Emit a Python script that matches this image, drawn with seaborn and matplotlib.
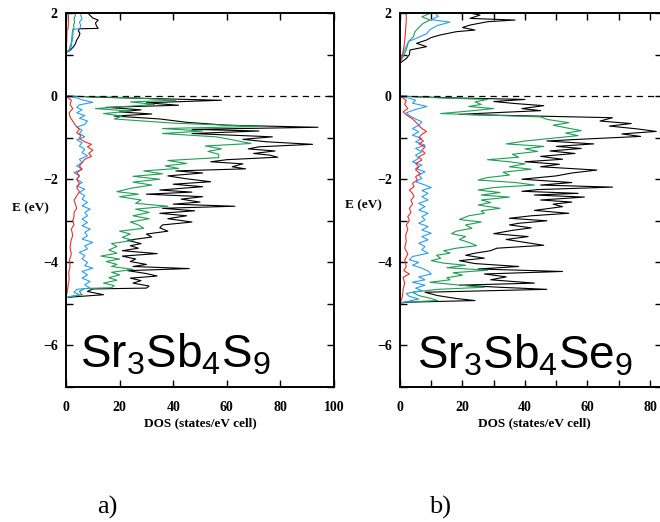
import matplotlib
matplotlib.use("Agg")
import matplotlib.pyplot as plt
import seaborn as sns
from matplotlib.ticker import MultipleLocator

# === Data: (a) Sr3Sb4S9, valence band ===
a_tot_vb_e = [0.00, -0.04, -0.10, -0.16, -0.22, -0.27, -0.33, -0.38, -0.43, -0.48, -0.55, -0.63, -0.70, -0.75,
              -0.80, -0.84, -0.90, -0.98, -1.04, -1.10, -1.16, -1.22, -1.27, -1.32, -1.38, -1.42, -1.47, -1.53,
              -1.58, -1.63, -1.70, -1.75, -1.80, -1.85, -1.92, -1.99, -2.06, -2.12, -2.18, -2.26, -2.31, -2.36,
              -2.42, -2.48, -2.55, -2.60, -2.65, -2.70, -2.76, -2.82, -2.88, -2.95, -3.03, -3.10, -3.17, -3.25,
              -3.32, -3.39, -3.47, -3.55, -3.60, -3.66, -3.72, -3.79, -3.85, -3.92, -3.98, -4.05, -4.10, -4.15,
              -4.20, -4.27, -4.33, -4.38, -4.44, -4.50, -4.57, -4.62, -4.64, -4.70, -4.78, -4.83, -4.85]
a_tot_vb = [0, 20, 58, 30, 42, 15, 28, 20, 32, 18, 35, 45, 60, 94,
            47, 72, 47, 77, 66, 75, 92, 72, 68, 78, 70, 76, 79, 60,
            54, 66, 62, 67, 41, 51, 38, 45, 54, 40, 51, 35, 47, 30,
            51, 43, 50, 40, 63, 36, 48, 35, 45, 38, 47, 36, 35, 38,
            30, 32, 23, 28, 24, 27, 21, 34, 21, 26, 24, 30, 25, 46,
            23, 30, 34, 24, 28, 25, 31, 30, 10, 8, 14, 3, 0]

a_grn_vb_e = [0.00, -0.04, -0.10, -0.14, -0.20, -0.25, -0.30, -0.36, -0.42, -0.48, -0.55, -0.65, -0.73, -0.78,
              -0.84, -0.90, -0.98, -1.05, -1.14, -1.20, -1.27, -1.33, -1.40, -1.48, -1.55, -1.62, -1.68, -1.74,
              -1.80, -1.87, -1.93, -2.00, -2.07, -2.14, -2.22, -2.30, -2.36, -2.42, -2.50, -2.58, -2.65, -2.72,
              -2.80, -2.88, -2.95, -3.03, -3.10, -3.18, -3.25, -3.32, -3.40, -3.47, -3.55, -3.62, -3.70, -3.78,
              -3.85, -3.92, -3.98, -4.05, -4.10, -4.17, -4.24, -4.30, -4.37, -4.43, -4.50, -4.56, -4.61, -4.63,
              -4.70, -4.78, -4.82, -4.85]
a_grn_vb = [0, 25, 41, 24, 33, 22, 11, 24, 14, 21, 18, 40, 72, 36,
            51, 36, 56, 62, 69, 52, 58, 53, 57, 57, 38, 45, 37, 42,
            29, 36, 25, 35, 25, 32, 24, 19, 27, 20, 28, 26, 38, 26,
            31, 25, 31, 24, 27, 29, 20, 24, 21, 25, 17, 19, 16, 19,
            13, 20, 15, 19, 17, 25, 17, 20, 16, 19, 14, 18, 17, 7,
            5, 6, 2, 0]

a_blu_vb_e = [0.00, -0.04, -0.09, -0.15, -0.21, -0.27, -0.33, -0.40, -0.47, -0.53, -0.60, -0.68, -0.75, -0.82,
              -0.90, -0.98, -1.05, -1.12, -1.20, -1.28, -1.36, -1.44, -1.52, -1.60, -1.68, -1.76, -1.84, -1.92,
              -2.00, -2.08, -2.16, -2.24, -2.32, -2.40, -2.48, -2.56, -2.64, -2.72, -2.80, -2.88, -2.96, -3.04,
              -3.12, -3.20, -3.28, -3.36, -3.44, -3.52, -3.60, -3.68, -3.76, -3.84, -3.92, -4.00, -4.08, -4.14,
              -4.22, -4.30, -4.38, -4.46, -4.54, -4.62, -4.65, -4.72, -4.78, -4.83, -4.85]
a_blu_vb = [0, 4, 6, 10, 5, 4, 6, 4, 7, 5, 8, 7, 4, 6,
            5, 7, 4, 6, 5, 7, 6, 8, 5, 6, 4, 6, 3, 5,
            4, 6, 4, 7, 5, 7, 6, 8, 6, 9, 7, 8, 6, 8,
            6, 9, 7, 8, 6, 10, 7, 8, 5, 7, 6, 8, 7, 10,
            6, 8, 6, 9, 7, 9, 4, 3, 5, 1, 0]

a_red_vb_e = [0.00, -0.10, -0.20, -0.30, -0.40, -0.50, -0.60, -0.70, -0.80, -0.88, -0.95, -1.02, -1.10, -1.16,
              -1.22, -1.30, -1.38, -1.45, -1.52, -1.60, -1.68, -1.76, -1.84, -1.92, -2.00, -2.10, -2.20, -2.30,
              -2.40, -2.50, -2.60, -2.70, -2.80, -2.90, -3.00, -3.10, -3.20, -3.35, -3.50, -3.65, -3.80, -3.95,
              -4.10, -4.25, -4.40, -4.55, -4.70, -4.85]
a_red_vb = [0, 2, 1.5, 2.5, 1.2, 1.5, 2.5, 3.5, 5, 4, 5.5, 5, 7, 9.5,
            8, 10, 8.5, 9.5, 7, 6, 5, 6, 4, 5, 4, 5, 4, 5,
            4, 3, 3.5, 4, 3, 3, 2.5, 3, 2, 2.5, 1.8, 1.5, 2, 1.3,
            1.5, 1, 1.2, 0.8, 0.5, 0]

# === (a) conduction band ===
a_tot_cb_e = [1.05, 1.10, 1.18, 1.26, 1.35, 1.43, 1.51, 1.57, 1.62, 1.63, 1.70, 1.76, 1.83, 1.88, 1.94, 1.99, 2.05]
a_tot_cb = [0, 1.5, 2.7, 3.5, 4, 4.8, 5.2, 4.6, 5, 12, 11.3, 11, 12, 10, 9, 8.3, 9]
a_grn_cb_e = [1.05, 1.12, 1.20, 1.30, 1.40, 1.50, 1.60, 1.63, 1.70, 1.78, 1.86, 1.94, 2.02]
a_grn_cb = [0, 1.2, 1.6, 2, 2.2, 2.3, 2.5, 3, 2.8, 3.2, 3, 3.5, 3.2]
a_blu_cb_e = [1.05, 1.12, 1.20, 1.30, 1.40, 1.50, 1.60, 1.63, 1.70, 1.78, 1.86, 1.94, 2.02]
a_blu_cb = [0, 1.5, 2, 2.2, 2.5, 2.6, 2.7, 5.2, 5.5, 5, 6, 5.5, 5.8]
a_red_cb_e = [1.05, 1.20, 1.40, 1.60, 1.63, 1.80, 2.02]
a_red_cb = [0, 0.2, 0.3, 0.4, 0.8, 0.9, 0.9]

# === Data: (b) Sr3Sb4Se9, valence band ===
b_tot_vb_e = [0.00, -0.04, -0.08, -0.13, -0.18, -0.23, -0.30, -0.35, -0.40, -0.44, -0.52, -0.60, -0.66, -0.72,
              -0.79, -0.85, -0.91, -0.97, -1.03, -1.08, -1.15, -1.21, -1.26, -1.32, -1.38, -1.45, -1.52, -1.58,
              -1.64, -1.70, -1.78, -1.85, -1.92, -2.00, -2.08, -2.14, -2.19, -2.25, -2.29, -2.34, -2.38, -2.43,
              -2.50, -2.55, -2.60, -2.66, -2.75, -2.82, -2.88, -2.94, -3.00, -3.06, -3.10, -3.17, -3.23, -3.31,
              -3.38, -3.45, -3.52, -3.59, -3.66, -3.72, -3.78, -3.83, -3.90, -3.96, -4.03, -4.10, -4.16, -4.22,
              -4.28, -4.35, -4.42, -4.50, -4.55, -4.60, -4.65, -4.72, -4.80, -4.87, -4.92, -4.96, -4.98]
b_tot_vb = [0, 15, 40, 30, 37, 46, 39, 45, 30, 19, 68, 64, 74, 67,
            76, 82, 71, 77, 60, 47, 62, 50, 58, 48, 56, 45, 52, 40,
            51, 45, 63, 55, 50, 39, 55, 45, 68, 44, 39, 57, 43, 59,
            45, 55, 49, 52, 43, 54, 42, 35, 47, 38, 35, 42, 36, 30,
            41, 34, 40, 46, 31, 29, 24, 21, 27, 19, 24, 38, 25, 52,
            27, 34, 29, 43, 19, 32, 47, 8, 12, 18, 24, 2, 0]

b_grn_vb_e = [0.00, -0.04, -0.08, -0.14, -0.20, -0.25, -0.30, -0.36, -0.42, -0.50, -0.56, -0.64, -0.70, -0.76,
              -0.83, -0.89, -0.95, -1.02, -1.08, -1.15, -1.21, -1.27, -1.33, -1.40, -1.47, -1.53, -1.58, -1.63,
              -1.70, -1.76, -1.83, -1.90, -1.96, -2.02, -2.08, -2.14, -2.20, -2.26, -2.32, -2.38, -2.43, -2.50,
              -2.56, -2.62, -2.70, -2.76, -2.82, -2.88, -2.97, -3.03, -3.10, -3.18, -3.25, -3.31, -3.38, -3.45,
              -3.52, -3.60, -3.66, -3.72, -3.78, -3.83, -3.90, -3.96, -4.02, -4.07, -4.13, -4.19, -4.25, -4.31,
              -4.37, -4.42, -4.48, -4.54, -4.60, -4.65, -4.72, -4.80, -4.87, -4.92, -4.96, -4.98]
b_grn_vb = [0, 12, 28, 24, 26, 22, 30, 22, 13, 45, 47, 54, 49, 53,
            58, 53, 57, 48, 40, 34, 46, 40, 44, 36, 38, 28, 35, 40,
            35, 42, 33, 35, 28, 25, 37, 43, 30, 25, 32, 26, 35, 26,
            29, 25, 32, 26, 27, 22, 19, 26, 21, 23, 18, 16.5, 21, 19,
            22, 24.5, 18, 14, 16, 11.7, 13, 10, 14, 21, 15, 28, 17, 20,
            15, 16, 9.6, 18, 27, 12, 4, 6, 10, 12, 1, 0]

b_blu_vb_e = [0.00, -0.05, -0.10, -0.17, -0.25, -0.32, -0.40, -0.47, -0.55, -0.62, -0.70, -0.78, -0.86, -0.94,
              -1.02, -1.10, -1.18, -1.26, -1.34, -1.42, -1.50, -1.58, -1.66, -1.74, -1.82, -1.90, -1.98, -2.06,
              -2.14, -2.20, -2.27, -2.34, -2.42, -2.50, -2.58, -2.66, -2.74, -2.82, -2.90, -2.98, -3.06, -3.14,
              -3.22, -3.30, -3.38, -3.46, -3.54, -3.62, -3.70, -3.78, -3.86, -3.94, -4.00, -4.07, -4.14, -4.21,
              -4.28, -4.35, -4.42, -4.48, -4.55, -4.62, -4.68, -4.75, -4.82, -4.88, -4.93, -4.98]
b_blu_vb = [0, 3, 5, 4, 8.6, 5, 2, 3, 5, 7, 6, 4, 6, 4,
            7, 5, 8, 5, 7, 5, 6, 4, 7, 5, 8, 6, 7, 5,
            8, 10, 7, 9, 7, 9, 6, 8, 6, 9, 7, 8, 6, 9,
            7, 10, 7, 9, 6, 8, 7, 9, 4, 3, 6, 4, 7, 9,
            10, 6, 8, 4, 8, 5, 7, 2, 3, 6, 3, 0]

b_red_vb_e = [0.00, -0.10, -0.20, -0.30, -0.38, -0.45, -0.55, -0.62, -0.70, -0.78, -0.85, -0.92, -1.00, -1.08,
              -1.15, -1.22, -1.30, -1.38, -1.46, -1.54, -1.62, -1.70, -1.78, -1.86, -1.94, -2.02, -2.10, -2.18,
              -2.26, -2.34, -2.42, -2.50, -2.60, -2.70, -2.80, -2.90, -3.00, -3.10, -3.20, -3.35, -3.50, -3.65,
              -3.80, -3.95, -4.10, -4.20, -4.28, -4.36, -4.50, -4.65, -4.80, -4.90, -4.98]
b_red_vb = [0, 2, 1.5, 2.5, 1, 2, 4, 5, 6, 7, 8.5, 7, 6, 7.5,
            6, 8, 7, 8, 6, 7, 5, 6, 5, 6.5, 5, 5.5, 4, 4.5,
            3, 4, 4.5, 3.5, 4, 3, 3.5, 2.5, 3, 2, 2.5, 1.8, 2, 1.5,
            2.5, 1.5, 2, 1.2, 3, 1, 1.5, 1, 0.8, 0.5, 0]

# === (b) conduction band ===
b_tot_cb_e = [0.79, 0.85, 0.91, 1.00, 1.11, 1.19, 1.27, 1.35, 1.41, 1.47, 1.55, 1.59, 1.65, 1.71, 1.79, 1.83,
              1.87, 1.95, 1.99, 2.05]
b_tot_cb = [0, 1, 2.1, 3, 3.2, 8.5, 5.3, 8.5, 10, 12.8, 18, 24, 20, 22.4, 28, 36.8, 22.4, 25.6, 23, 28]
b_grn_cb_e = [0.82, 0.95, 1.11, 1.31, 1.43, 1.55, 1.65, 1.75, 1.83, 1.91, 1.99, 2.05]
b_grn_cb = [0, 1, 2, 2.7, 4.3, 4.8, 6, 7.4, 9.6, 7, 9.6, 8]
b_blu_cb_e = [0.82, 0.95, 1.11, 1.31, 1.43, 1.50, 1.60, 1.70, 1.78, 1.84, 1.92, 1.99, 2.05]
b_blu_cb = [0, 0.5, 1.5, 2.7, 6.4, 8.5, 9.6, 12, 16, 10, 12.3, 11.2, 13]
b_red_cb_e = [0.82, 1.00, 1.20, 1.40, 1.60, 1.80, 2.05]
b_red_cb = [0, 0.8, 1.3, 1.6, 1.8, 2, 2]

colors = {"tot": "black", "grn": "#1f9e55", "blu": "#2a9df0", "red": "#e8302a"}

sns.set_style("ticks")
plt.rcParams["font.family"] = ["Liberation Serif", "DejaVu Serif"]
plt.rcParams["mathtext.fontset"] = "custom"
plt.rcParams["mathtext.rm"] = "Liberation Sans"
plt.rcParams["mathtext.it"] = "Liberation Sans:italic"
for k in ["text.color", "axes.labelcolor", "xtick.color", "ytick.color", "axes.edgecolor"]:
    plt.rcParams[k] = "black"

fig = plt.figure(figsize=(6.6, 5.22), dpi=100)
ax_a = fig.add_axes([66 / 660, 135 / 522, 268 / 660, 374 / 522])
ax_b = fig.add_axes([400 / 660, 135 / 522, 262 / 660, 374 / 522])


def draw(ax, e, dos, key):
    sns.lineplot(x=dos, y=e, ax=ax, orient="y", estimator=None,
                 color=colors[key], lw=0.8)


panels = [
    (ax_a, [(a_tot_vb_e, a_tot_vb, "tot"), (a_grn_vb_e, a_grn_vb, "grn"), (a_blu_vb_e, a_blu_vb, "blu"),
            (a_red_vb_e, a_red_vb, "red"), (a_tot_cb_e, a_tot_cb, "tot"), (a_grn_cb_e, a_grn_cb, "grn"),
            (a_blu_cb_e, a_blu_cb, "blu"), (a_red_cb_e, a_red_cb, "red")], 100, 20),
    (ax_b, [(b_tot_vb_e, b_tot_vb, "tot"), (b_grn_vb_e, b_grn_vb, "grn"), (b_blu_vb_e, b_blu_vb, "blu"),
            (b_red_vb_e, b_red_vb, "red"), (b_tot_cb_e, b_tot_cb, "tot"), (b_grn_cb_e, b_grn_cb, "grn"),
            (b_blu_cb_e, b_blu_cb, "blu"), (b_red_cb_e, b_red_cb, "red")], 262 / 3.125, 10),
]

for ax, curves, xmax, xminor in panels:
    for e, dos, key in curves:
        draw(ax, e, dos, key)
    ax.axhline(0, color="black", ls=(0, (5, 4)), lw=0.9)
    ax.set_xlim(0, xmax)
    ax.set_ylim(-7, 2)
    ax.xaxis.set_major_locator(MultipleLocator(20))
    ax.xaxis.set_minor_locator(MultipleLocator(xminor))
    ax.yaxis.set_major_locator(MultipleLocator(2))
    ax.yaxis.set_minor_locator(MultipleLocator(1))
    ax.tick_params(which="both", direction="in", top=True, right=True, length=5, width=1, color="black")
    ax.tick_params(axis="x", which="major", pad=10, labelsize=10)
    ax.tick_params(axis="y", which="major", pad=6, labelsize=10)
    for lab in ax.get_xticklabels() + ax.get_yticklabels():
        lab.set_fontweight("bold")
    for s in ax.spines.values():
        s.set_linewidth(1.4)
        s.set_color("black")
        s.set_visible(True)
    ax.set_xlabel("")
    ax.set_ylabel("")

ax_a.text(5.2, -6.53, "Sr$_3$Sb$_4$S$_9$", family="Liberation Sans", fontsize=33, va="baseline", color="black")
ax_b.text(5.4, -6.55, "Sr$_3$Sb$_4$Se$_9$", family="Liberation Sans", fontsize=33, va="baseline", color="black")

# axis labels
fig.text(200 / 660, 1 - 423 / 522, "DOS (states/eV cell)", ha="center", va="center", fontsize=9.5, weight="bold")
fig.text(534 / 660, 1 - 423 / 522, "DOS (states/eV cell)", ha="center", va="center", fontsize=9.5, weight="bold")
fig.text(30 / 660, 1 - 208 / 522, "E (eV)", ha="center", va="center", fontsize=9.5, weight="bold")
fig.text(363 / 660, 1 - 205 / 522, "E (eV)", ha="center", va="center", fontsize=9.5, weight="bold")

fig.text(107 / 660, 1 - 507 / 522, "a)", ha="center", va="center", fontsize=19)
fig.text(440 / 660, 1 - 507 / 522, "b)", ha="center", va="center", fontsize=19)

fig.savefig("out.png", dpi=100)
